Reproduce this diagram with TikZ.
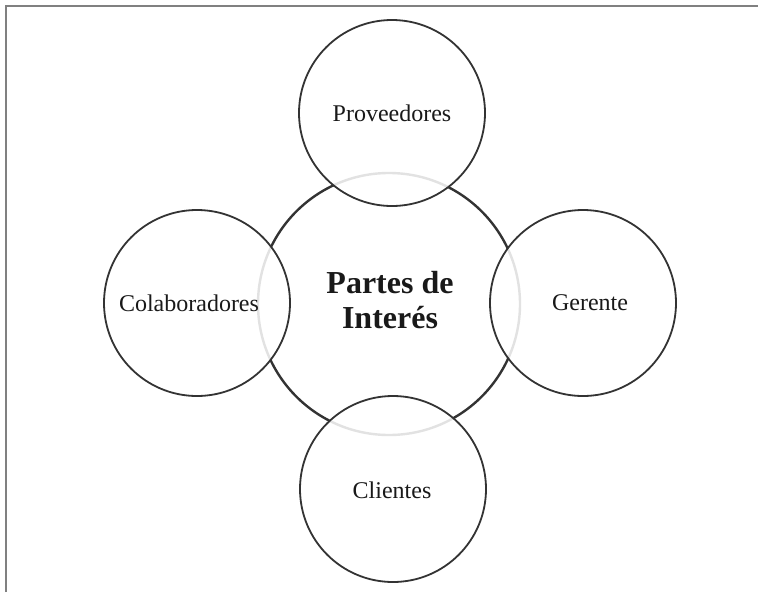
\documentclass[tikz,border=0pt]{standalone}
\usepackage{fontspec}
\setmainfont{Liberation Serif}
\begin{document}
\begin{tikzpicture}[x=1pt,y=-1pt,
  core/.style={circle, draw=black!80, line width=2.4pt, inner sep=0pt, minimum size=262pt},
  sat/.style={circle, draw=black!80, line width=1.8pt, fill=white, fill opacity=0.86,
    inner sep=0pt, minimum size=186pt},
  stext/.style={font=\fontsize{24}{27}\selectfont, text=black!90, inner sep=0pt},
  ctext/.style={font=\fontsize{32}{35}\selectfont\bfseries, text=black!90, align=center}]
\useasboundingbox (0,0) rectangle (758,592);
\coordinate (fa) at (6,592);
\coordinate (fb) at (6,6);
\coordinate (fc) at (758,6);
\draw[black!50, line width=1.5pt] (fa) -- (fb) -- (fc);
\node[core] (c) at (389,304) {};
\node[sat] (p) at (392,113) {};
\node[sat] (k) at (393,489) {};
\node[sat] (l) at (197,303) {};
\node[sat] (g) at (583,303) {};
\node[stext] (pt) at (392,113) {Proveedores};
\node[stext] (kt) at (392,490) {Clientes};
\node[stext] (lt) at (189,303) {Colaboradores};
\node[stext] (gt) at (590,303) {Gerente};
\node[ctext] (t) at (390,300) {Partes de\\Interés};
\end{tikzpicture}
\end{document}
